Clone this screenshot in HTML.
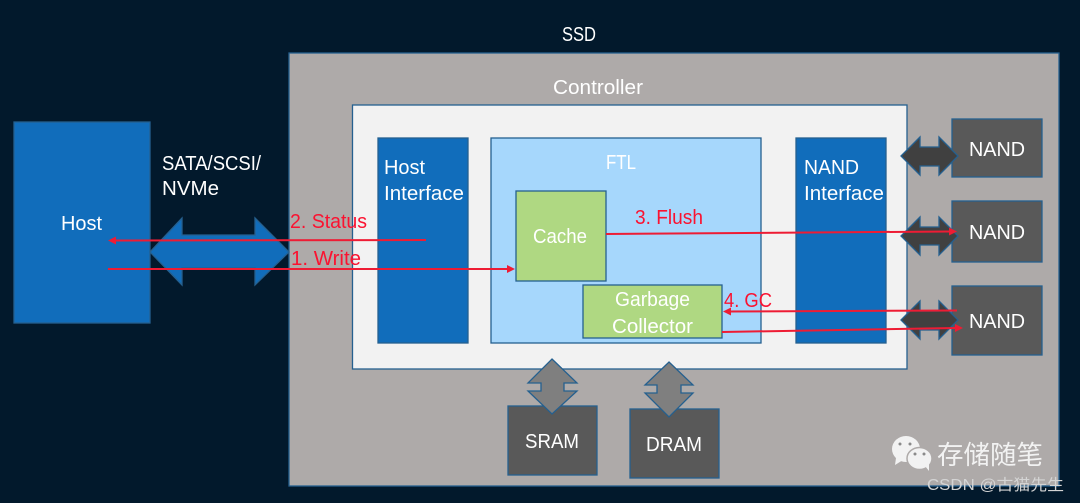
<!DOCTYPE html>
<html><head><meta charset="utf-8"><style>
html,body{margin:0;padding:0;background:#02192c;}
svg{display:block}
text{font-family:"Liberation Sans","Noto Sans CJK SC",sans-serif;font-size:20px;fill:#fff}
.r{fill:#fb1230}
.l{stroke:#ee1c34;stroke-width:2;fill:none}
</style></head><body>
<svg width="1080" height="503" viewBox="0 0 1080 503" xmlns="http://www.w3.org/2000/svg">
<rect width="1080" height="503" fill="#02192c"/>
<g stroke="#25608f" stroke-width="1.3">
<rect x="289" y="53" width="770" height="433" fill="#aeaaa9"/>
<rect x="352.500" y="105" width="554.500" height="264" fill="#f2f2f2"/>
<rect x="14" y="122" width="136" height="201" fill="#116dbb"/>
<rect x="378" y="138" width="90" height="205" fill="#116dbb"/>
<rect x="491" y="138" width="270" height="205" fill="#a6d7fc"/>
<rect x="796" y="138" width="90" height="205" fill="#116dbb"/>
<rect x="516" y="191" width="90" height="90" fill="#afd882"/>
<rect x="583" y="285" width="139" height="53" fill="#afd882"/>
<rect x="952" y="119" width="90" height="58" fill="#595959"/>
<rect x="952" y="201" width="90" height="61" fill="#595959"/>
<rect x="952" y="286" width="90" height="69" fill="#595959"/>
<rect x="508" y="406" width="89" height="69" fill="#595959"/>
<rect x="630" y="409" width="89" height="69" fill="#595959"/>
<polygon points="150,252 182,218 182,235 255,235 255,218 289,252 255,285 255,268 182,268 182,285" fill="#116dbb"/>
<polygon points="901,156 920,137 920,147 939,147 939,137 958,156 939,175 939,166 920,166 920,175" fill="#404040"/>
<polygon points="901,236 920,217 920,227 939,227 939,217 958,236 939,255 939,245 920,245 920,255" fill="#404040"/>
<polygon points="901,320 920,301 920,311 939,311 939,301 958,320 939,339 939,330 920,330 920,339" fill="#404040"/>
<polygon points="552,359 577,383 564,383 564,391 577,391 552,414 528,391 541,391 541,383 528,383" fill="#7f7f7f"/>
<polygon points="669,362 693,385 681,385 681,393 693,393 669,417 645,393 657,393 657,385 645,385" fill="#7f7f7f"/>
</g>
<text x="562" y="41" textLength="34" lengthAdjust="spacingAndGlyphs">SSD</text>
<text x="553" y="94" textLength="90" lengthAdjust="spacingAndGlyphs">Controller</text>
<text x="162" y="170" textLength="99" lengthAdjust="spacingAndGlyphs">SATA/SCSI/</text>
<text x="162" y="195" textLength="57" lengthAdjust="spacingAndGlyphs">NVMe</text>
<text x="61" y="230" textLength="41" lengthAdjust="spacingAndGlyphs">Host</text>
<text x="384" y="174" textLength="41" lengthAdjust="spacingAndGlyphs">Host</text>
<text x="384" y="200" textLength="80" lengthAdjust="spacingAndGlyphs">Interface</text>
<text x="606" y="169" textLength="30" lengthAdjust="spacingAndGlyphs">FTL</text>
<text x="804" y="174" textLength="55" lengthAdjust="spacingAndGlyphs">NAND</text>
<text x="804" y="200" textLength="80" lengthAdjust="spacingAndGlyphs">Interface</text>
<text x="533" y="243" textLength="54" lengthAdjust="spacingAndGlyphs">Cache</text>
<text x="615" y="306" textLength="75" lengthAdjust="spacingAndGlyphs">Garbage</text>
<text x="612" y="333" textLength="81" lengthAdjust="spacingAndGlyphs">Collector</text>
<text x="969" y="156" textLength="56" lengthAdjust="spacingAndGlyphs">NAND</text>
<text x="969" y="239" textLength="56" lengthAdjust="spacingAndGlyphs">NAND</text>
<text x="969" y="328" textLength="56" lengthAdjust="spacingAndGlyphs">NAND</text>
<text x="525" y="448" textLength="54" lengthAdjust="spacingAndGlyphs">SRAM</text>
<text x="646" y="451" textLength="56" lengthAdjust="spacingAndGlyphs">DRAM</text>
<text class="r" x="290" y="228" textLength="77" lengthAdjust="spacingAndGlyphs">2. Status</text>
<text class="r" x="291" y="265" textLength="70" lengthAdjust="spacingAndGlyphs">1. Write</text>
<text class="r" x="635" y="224" textLength="68" lengthAdjust="spacingAndGlyphs">3. Flush</text>
<text class="r" x="724" y="307" textLength="48" lengthAdjust="spacingAndGlyphs">4. GC</text>
<path class="l" d="M426 240 L114 240.500"/><polygon points="108,240.500 116,236.500 116,244.500" fill="#ee1c34"/>
<path class="l" d="M108 269 L509 269"/><polygon points="515,269 507,265 507,273" fill="#ee1c34"/>
<path class="l" d="M606 234 L950 231.500"/><polygon points="957,231.500 949,227.500 949,235.500" fill="#ee1c34"/>
<path class="l" d="M957 310.500 L729 311.500"/><polygon points="723,311.500 731,307.500 731,315.500" fill="#ee1c34"/>
<path class="l" d="M722 332 L956 328"/><polygon points="963,328 955,324 955,332" fill="#ee1c34"/>
<g fill="#f2f2f2">
<ellipse cx="906" cy="449" rx="14" ry="13"/>
<polygon points="896,458 895,465 903,460"/>
<ellipse cx="919.500" cy="458.500" rx="12.500" ry="11" stroke="#aeaaa9" stroke-width="1.500"/>
<polygon points="925,466 929,471 929,463"/>
</g>
<g fill="#8a8a8a"><circle cx="900" cy="444" r="1.500"/><circle cx="910" cy="444" r="1.500"/><circle cx="915" cy="454" r="1.500"/><circle cx="924" cy="454" r="1.500"/></g>
<text x="937" y="464" style="font-size:26px;fill:#f2f2f2" textLength="106" lengthAdjust="spacingAndGlyphs">存储随笔</text>
<text x="927" y="490" style="font-size:15.500px;fill:#d4d4d4" textLength="137" lengthAdjust="spacingAndGlyphs">CSDN @古猫先生</text>
</svg>
</body></html>
